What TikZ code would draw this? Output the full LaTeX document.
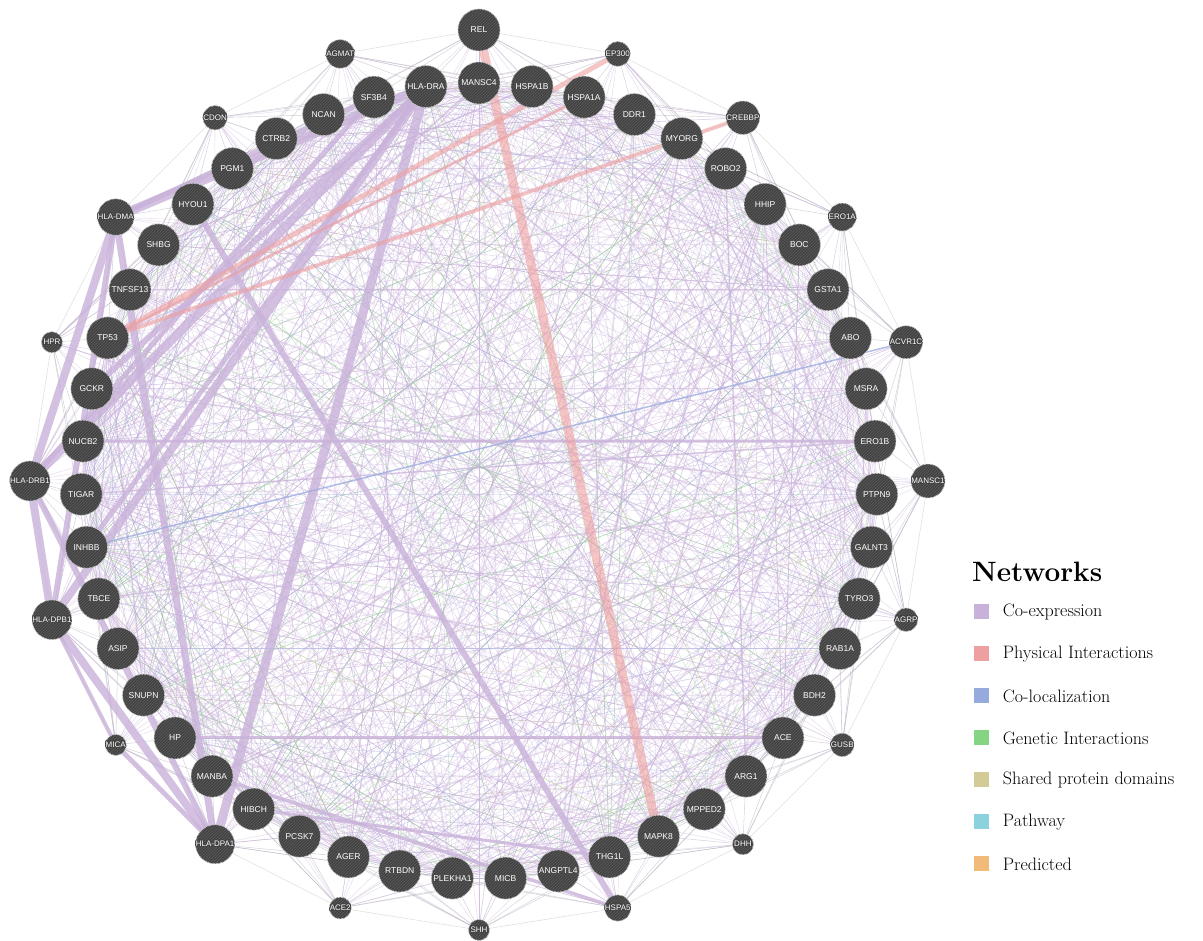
\documentclass[tikz,border=0pt]{standalone}
\usepackage{fontspec}
\usepackage{contour}
\newfontfamily\genefont{Liberation Sans}
\usetikzlibrary{positioning, backgrounds, patterns}

\definecolor{nodegray}{RGB}{66,66,66}
\definecolor{stripe}{RGB}{92,92,92}
\definecolor{nodeborder}{RGB}{205,205,205}
\definecolor{coexp}{RGB}{201,178,218}
\definecolor{physical}{RGB}{238,160,160}
\definecolor{coloc}{RGB}{150,170,222}
\definecolor{genetic}{RGB}{132,212,132}
\definecolor{shared}{RGB}{212,202,150}
\definecolor{pathway}{RGB}{140,210,222}
\definecolor{predicted}{RGB}{242,186,120}
\contourlength{0.8pt}

\begin{document}
\begin{tikzpicture}[
    x=1pt, y=1pt,
    gene/.style={circle, draw=nodeborder, line width=0.6pt, fill=nodegray,
        postaction={pattern=north east lines, pattern color=stripe},
        minimum size=42pt, inner sep=0pt, text=white,
        font=\genefont\fontsize{8.5}{9}\selectfont},
    smallgene/.style={gene, minimum size=21pt, font=\genefont\fontsize{8}{9}\selectfont},
    band/.style={draw=coexp, line width=#1, opacity=0.8},
    phys/.style={draw=physical, line width=#1, opacity=0.6},
    thinedge/.style={draw=#1, line width=0.55pt, opacity=0.42},
    legbox/.style={rectangle, minimum size=15pt, inner sep=0pt},
    legtext/.style={inner sep=0pt, font=\fontsize{18}{20}\selectfont}
]
\useasboundingbox (-479,-460) rectangle (724,481);

% Nodes: inner ring
\foreach \name [count=\k] in {MANSC4, HSPA1B, HSPA1A, DDR1, MYORG, ROBO2, HHIP, BOC,
    GSTA1, ABO, MSRA, ERO1B, PTPN9, GALNT3, TYRO3, RAB1A, BDH2, ACE, ARG1, MPPED2,
    MAPK8, THG1L, ANGPTL4, MICB, PLEKHA1, RTBDN, AGER, PCSK7, HIBCH, MANBA, HP,
    SNUPN, ASIP, TBCE, INHBB, TIGAR, NUCB2, GCKR, TP53, TNFSF13, SHBG, HYOU1, PGM1,
    CTRB2, NCAN, SF3B4, HLA-DRA}
  \node[gene] (g\k) at ({90-(\k-1)*7.6596}:398) {\name};

% Nodes: outer ring
\node[gene] (o1) at (90:451) {REL};
\foreach \name [count=\k from 2] in {EP300, CREBBP, ERO1A, ACVR1C, MANSC1, AGRP, GUSB,
    DHH, HSPA5, SHH, ACE2, HLA-DPA1, MICA, HLA-DPB1, HLA-DRB1, HPR, HLA-DMA, CDON, AGMAT}
  \node[smallgene] (o\k) at ({90-(\k-1)*18}:449) {\contour{nodegray}{\name}};

% Connections
\begin{scope}[on background layer]
  \pgfmathsetseed{17}
  % dense thin mesh
  \foreach \e in {1,...,1000} {
    \pgfmathtruncatemacro\ia{mod(\e*7,47)+1}
    \pgfmathtruncatemacro\ib{random(1,47)}
    \draw[thinedge=coexp] (g\ia.center) -- (g\ib.center);
  }
  \foreach \e in {1,...,90} {
    \pgfmathtruncatemacro\ia{mod(\e*5,47)+1}
    \pgfmathtruncatemacro\ib{random(1,47)}
    \draw[thinedge=genetic] (g\ia.center) -- (g\ib.center);
  }
  \foreach \e in {1,...,50} {
    \pgfmathtruncatemacro\ia{mod(\e*11,47)+1}
    \pgfmathtruncatemacro\ib{random(1,47)}
    \draw[thinedge=coloc] (g\ia.center) -- (g\ib.center);
  }
  \foreach \e in {1,...,25} {
    \pgfmathtruncatemacro\ia{mod(\e*13,47)+1}
    \pgfmathtruncatemacro\ib{random(1,47)}
    \draw[thinedge=shared] (g\ia.center) -- (g\ib.center);
  }
  \foreach \e in {1,...,60} {
    \pgfmathtruncatemacro\ia{mod(\e*3,47)+1}
    \pgfmathtruncatemacro\ib{random(1,47)}
    \draw[band=1.8, opacity=0.4] (g\ia.center) -- (g\ib.center);
  }
  % outer nodes fan into their neighbours
  \foreach \k in {1,...,20} {
    \pgfmathtruncatemacro\c{round((\k-1)*2.35)}
    \pgfmathtruncatemacro\nx{mod(\k,20)+1}
    \draw[thinedge=gray!60] (o\k.center) -- (o\nx.center);
    \foreach \d in {-4,...,4} {
      \pgfmathtruncatemacro\j{mod(\c+\d+47,47)+1}
      \draw[thinedge=gray!50!coexp] (o\k.center) -- (g\j.center);
    }
    \foreach \d in {21,23,25} {
      \pgfmathtruncatemacro\j{mod(\c+\d,47)+1}
      \draw[thinedge=coexp] (o\k.center) -- (g\j.center);
    }
    \foreach \e in {1,...,6} {
      \pgfmathtruncatemacro\ib{random(1,47)}
      \draw[thinedge=coexp] (o\k.center) -- (g\ib.center);
    }
  }
  \foreach \k in {1,3,...,19} {
    \pgfmathtruncatemacro\nx{\k+10}
    \ifnum\nx>20 \pgfmathtruncatemacro\nx{\nx-20}\fi
    \draw[thinedge=coexp] (o\k.center) -- (o\nx.center);
  }
  % strong co-expression
  \draw[band=9] (g47.center) -- (o18.center);
  \draw[band=9] (g47.center) -- (o16.center);
  \draw[band=8] (g47.center) -- (o15.center);
  \draw[band=9] (g47.center) -- (o13.center);
  \draw[band=5] (g46.center) -- (o18.center);
  \draw[band=5] (g46.center) -- (o16.center);
  \draw[band=6] (g47.center) -- (g38.center);
  \draw[band=5] (g47.center) -- (g35.center);
  \draw[band=8] (o18.center) -- (o16.center);
  \draw[band=8] (o16.center) -- (o15.center);
  \draw[band=8] (o15.center) -- (o13.center);
  \draw[band=6] (o16.center) -- (o13.center);
  \draw[band=6] (o18.center) -- (o15.center);
  \draw[band=7] (o18.center) -- (o13.center);
  \draw[band=5] (o14.center) -- (o13.center);
  \draw[band=4] (o14.center) -- (o15.center);
  \draw[band=6] (g42.center) -- (o10.center);
  \draw[band=3.5] (g30.center) -- (o10.center);
  \draw[band=3] (g29.center) -- (g22.center);
  \draw[band=3] (g37.center) -- (g12.center);
  \draw[band=3] (g31.center) -- (g18.center);
  % physical interactions
  \draw[phys=9] (o1.center) -- (g21.center);
  \draw[phys=5] (g39.center) -- (o2.center);
  \draw[phys=4] (g39.center) -- (o3.center);
  \draw[phys=3] (g39.center) -- (g3.center);
  % co-localization
  \draw[draw=coloc, line width=1.5pt, opacity=0.7] (g35.center) -- (o5.center);
\end{scope}

% Legend
\node[anchor=west, inner sep=0pt, font=\fontsize{28}{30}\selectfont\bfseries] (title) at (493,-91) {Networks};
\foreach \col/\txt [count=\k] in {coexp/Co-expression, physical/Physical Interactions,
    coloc/Co-localization, genetic/Genetic Interactions, shared/Shared protein domains,
    pathway/Pathway, predicted/Predicted} {
  \node[legbox, fill=\col] (sq\k) at (502,{-131-(\k-1)*42}) {};
  \node[legtext, right=14pt of sq\k] (lt\k) {\txt};
}

\end{tikzpicture}
\end{document}
